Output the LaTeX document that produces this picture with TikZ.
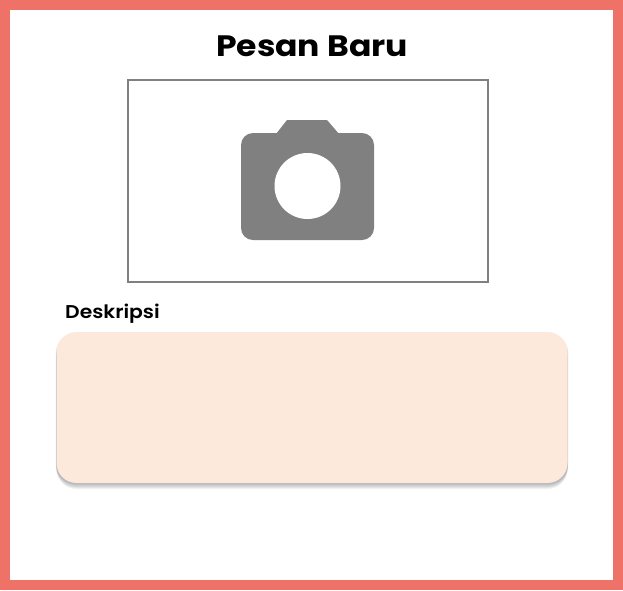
\documentclass[tikz,border=0pt]{standalone}
\usepackage{fontspec}
\setmainfont{Poppins}
\newfontfamily\titlefont[FakeStretch=1.12]{Poppins Bold}
\newfontfamily\captionfont[FakeStretch=1.1]{Poppins SemiBold}
\usepackage{tikz}
\usetikzlibrary{positioning}
\definecolor{bordercolor}{HTML}{EE7268}
\definecolor{boxcolor}{HTML}{FCE9DB}
\definecolor{iconcolor}{HTML}{808080}
\tikzstyle{title} = [font=\fontsize{29.5}{34}\titlefont, text=black, inner sep=0pt]
\tikzstyle{caption} = [font=\fontsize{18.5}{22}\captionfont, text=black, inner sep=0pt]
\tikzstyle{photoframe} = [rectangle, minimum width=360pt, minimum height=202pt, draw=iconcolor, line width=1.3pt, fill=white]
\tikzstyle{inputbox} = [rectangle, rounded corners=20pt, minimum width=511pt, minimum height=151pt, fill=boxcolor]
\tikzstyle{shadowbox} = [rectangle, rounded corners=20pt, minimum height=151pt, fill=black, fill opacity=0.05]

\begin{document}
\begin{tikzpicture}[x=1pt, y=-1pt]
  \useasboundingbox (0, 0) rectangle (623, 590);
  \fill [bordercolor] (0, 0) rectangle (623, 590);
  \fill [white] (10, 10) rectangle (613, 580);
  \node (title) [title] at (312, 46) {Pesan Baru};
  \node (frame) [photoframe] at (308, 181) {};
  % camera
  \fill [iconcolor, rounded corners=12pt] (241, 133) rectangle (374, 240);
  \fill [iconcolor] (276, 134) -- (287, 120) -- (327, 120) -- (339, 134) -- cycle;
  \fill [white] (307.5, 186) circle (33);
  \node (label) [caption, anchor=west] at (65, 314) {Deskripsi};
  \foreach \d in {1, ..., 6}
    \node (shadow\d) [shadowbox, minimum width={(511 + 0.3*(6 - \d))*1pt}] at (312, {407.5 + \d}) {};
  \node (box) [inputbox] at (312, 407.5) {};
\end{tikzpicture}
\end{document}
